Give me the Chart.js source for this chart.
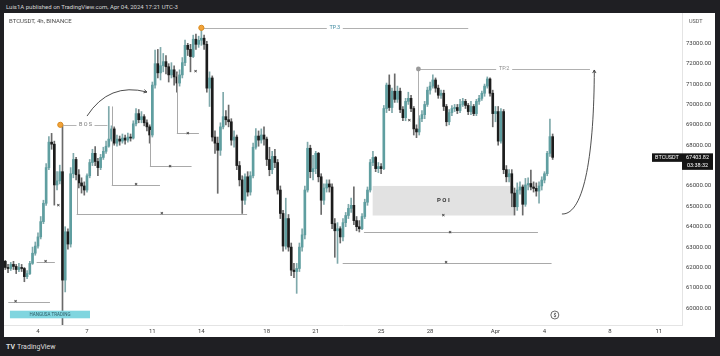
<!DOCTYPE html>
<html>
<head>
<meta charset="utf-8">
<script src="https://cdn.jsdelivr.net/npm/chart.js@4.4.1/dist/chart.umd.min.js"></script>
<style>
  html, body { margin: 0; padding: 0; }
  body { width: 720px; height: 356px; background: #1f1f23; position: relative; overflow: hidden;
         font-family: Roboto, "Liberation Sans", sans-serif; }
  #head { position: absolute; left: 6px; top: 3px; font-size: 6px; color: #d4d4d4; white-space: nowrap; }
  #panel { position: absolute; left: 4px; top: 13px; width: 711px; height: 324px; background: #fff; }
  #sym { position: absolute; left: 9px; top: 17px; font-size: 6px; color: #4a4a4a; z-index: 2; }
  #foot { position: absolute; left: 6px; top: 343px; font-size: 7px; color: #dedede; }
  #foot b { font-size: 7px; margin-right: 2px; }
</style>
</head>
<body>
<div id="head">Luis1A published on TradingView.com, Apr 04, 2024 17:21 UTC-3</div>
<div id="panel"><canvas id="chart" width="711" height="324"></canvas></div>
<div id="sym">BTCUSDT, 4h, BINANCE</div>
<div id="foot"><b>TV</b>TradingView</div>
<script>
// BTCUSDT 4h candles, index 0 = Mar 2 00:00, 6 candles per day
const firstOpen = 62300;
const closes = [
  62000, 61950, 62150, 62050, 61900, 62000,   // Mar 2
  61950, 61550, 61700, 62200, 62700, 63050,   // Mar 3
  63500, 64250, 65150, 66900, 68150, 68050,   // Mar 4
  66050, 66250, 66700, 61380, 63750, 63150,   // Mar 5
  66600, 67300, 66550, 66150, 66000, 65800,   // Mar 6
  66500, 67150, 67600, 67200, 66900, 67400,   // Mar 7
  67700, 67950, 68300, 68800, 68100, 68300,   // Mar 8
  68200, 68350, 68250, 68400, 68350, 69050,   // Mar 9
  69550, 69250, 69400, 69100, 68900, 68500,   // Mar 10
  70950, 72000, 71550, 71900, 72100, 71850,   // Mar 11
  71450, 71700, 71350, 71050, 71450, 72050,   // Mar 12
  72900, 72700, 72350, 73200, 72950, 73150,   // Mar 13
  73250, 72950, 70800, 71300, 68400, 68100,   // Mar 14
  67750, 68900, 69400, 69250, 69150, 68250,   // Mar 15
  68400, 67000, 66300, 65300, 66450, 65700,   // Mar 16
  66500, 67900, 68450, 68250, 68500, 68300,   // Mar 17
  67300, 66800, 67450, 67150, 65800, 64650,   // Mar 18
  63050, 64400, 63000, 61870, 61800, 61950,   // Mar 19
  63000, 63600, 65800, 67850, 66700, 66850,   // Mar 20
  67600, 66450, 65300, 65900, 66100, 65950,   // Mar 21
  64150, 63800, 63900, 63500, 64200, 64550,   // Mar 22
  64900, 65050, 64300, 64000, 63900, 64500,   // Mar 23
  65200, 65800, 67150, 67400, 66850, 66950,   // Mar 24
  66850, 69800, 70950, 69850, 70650, 70250,   // Mar 25
  70650, 69750, 69350, 70150, 70300, 69800,   // Mar 26
  68800, 68650, 69300, 69500, 70000, 70700,   // Mar 27
  70900, 71200, 70800, 70450, 70550, 69900,   // Mar 28
  69150, 69600, 69800, 69850, 69700, 70000,   // Mar 29
  70150, 69950, 69650, 69900, 69550, 70150,   // Mar 30
  70300, 70550, 70900, 71250, 70550, 69550,   // Mar 31
  69650, 68200, 69650, 66800, 66450, 66600,   // Apr 1
  65650, 64980, 65800, 65950, 65100, 66050,   // Apr 2
  66120, 65950, 65880, 65750, 66000, 66290,   // Apr 3
  66600, 67600, 68420, 67403.82               // Apr 4
];
const highs = [
  62350, 62150, 62250, 62300, 62150, 62200,
  62150, 62000, 61850, 62300, 63000, 63250,
  63700, 64500, 65300, 67100, 68420, 68580,
  68200, 66700, 67020, 69000, 64000, 63900,
  66900, 67600, 67400, 66800, 66400, 66200,
  66600, 67300, 67800, 67930, 67350, 67550,
  67900, 68200, 69900, 68950, 68900, 68500,
  68450, 68550, 68500, 68600, 68550, 69200,
  69800, 69750, 69650, 69500, 69250, 69000,
  71100, 72670, 72700, 72800, 72500, 72400,
  72000, 72050, 71900, 71600, 71700, 72300,
  73160, 73000, 72950, 73400, 73450, 73350,
  73777, 73400, 73100, 71600, 71400, 68700,
  68400, 69100, 70600, 69700, 69970, 69300,
  68700, 68500, 67200, 66500, 66600, 66700,
  66700, 68100, 68820, 68700, 68800, 68900,
  68400, 67900, 67700, 67800, 67300, 66000,
  64800, 65400, 64600, 63200, 62200, 62200,
  63200, 63900, 66000, 68150, 68000, 67500,
  67700, 67650, 66600, 66100, 66300, 66300,
  66100, 64400, 64200, 64000, 64400, 64700,
  65100, 65400, 65960, 64500, 64300, 64650,
  65350, 65950, 67300, 67700, 67450, 67150,
  67100, 69950, 71050, 71450, 70800, 71500,
  70900, 70800, 69900, 70300, 70600, 70450,
  69900, 69000, 69450, 69700, 70150, 70850,
  71100, 71450, 71300, 70950, 70700, 70700,
  70000, 69750, 69950, 70000, 70000, 70250,
  70300, 70250, 70050, 70150, 70000, 70250,
  70450, 70650, 71000, 71350, 71300, 70700,
  69900, 69900, 69800, 69750, 67000, 66800,
  66800, 65900, 66150, 66200, 66050, 66370,
  66400, 66780, 66200, 66150, 66200, 66450,
  66700, 67700, 69280, 68550
];
const lows = [
  61900, 61750, 61850, 61900, 61700, 61800,
  61800, 61300, 61450, 61650, 62150, 62600,
  62950, 63400, 64150, 65050, 66800, 67800,
  65060, 65800, 66100, 59000, 60800, 62900,
  63000, 66400, 66300, 65900, 65650, 65550,
  65700, 66400, 67000, 67000, 66500, 66800,
  67300, 67600, 67900, 68200, 68000, 67950,
  68000, 68100, 68050, 68150, 68200, 68300,
  68950, 69100, 69100, 68950, 68700, 68100,
  68400, 70800, 71300, 71200, 71600, 71500,
  71100, 71300, 70950, 70600, 70900, 71300,
  71900, 72400, 71600, 72300, 72700, 72800,
  72900, 72700, 70600, 69900, 68200, 67600,
  65640, 67500, 68800, 69000, 68900, 68000,
  67900, 66800, 66000, 64650, 65100, 65500,
  65550, 66400, 67800, 67950, 68100, 68000,
  67000, 66500, 66600, 66900, 65600, 64400,
  62800, 62900, 62800, 61600, 61500, 60730,
  61800, 62800, 63400, 65700, 66400, 66300,
  66600, 66200, 64600, 65100, 65700, 65700,
  63900, 62500, 62200, 63200, 63300, 64000,
  64400, 64700, 64100, 63800, 63740, 63850,
  64400, 65050, 65700, 67000, 66700, 66650,
  66600, 66800, 69600, 69700, 69600, 70100,
  70100, 69600, 69200, 69200, 70000, 69650,
  68500, 68370, 68500, 69150, 69300, 69900,
  70500, 70800, 70600, 70300, 70300, 69700,
  68950, 69000, 69450, 69650, 69550, 69600,
  69900, 69800, 69500, 69500, 69450, 69450,
  70000, 70200, 70400, 70800, 70400, 68900,
  69150, 68000, 68100, 66600, 66200, 66200,
  64980, 64570, 64800, 65600, 64570, 65000,
  65800, 65800, 65700, 65500, 65150, 65800,
  66150, 66500, 67450, 67300
];

// axis ticks
const xTickIdx = [12, 30, 54, 72, 96, 114, 138, 156, 180, 198, 222, 240];
const xTickLabels = ['4', '7', '11', '14', '18', '21', '25', '28', 'Apr', '4', '8', '11'];
const yTickValues = [60000, 61000, 62000, 63000, 64000, 65000, 66000, 67000,
                     68000, 69000, 70000, 71000, 72000, 73000];

// drawings, anchored at (candle index, price)
const bosLine = [20.2, 37.5, 69000];
const bosArrow = [[30, 69430], [38.1, 71100], [52, 70610]];
const tp3Line = [72, 170, 73760];
const tp2Line = [151.7, 214.7, 71740, 68800];
const tpArrow = [[204.4, 64624], [212.9, 64575], [216.2, 67765], [216.3, 71690]];
const poiBox = [134.9, 186.8, 64550, 66000];
// from, to, price, marker index, top of vertical leg
const liquidity = [
  [1.1, 16.4, 60320, 3.8, null],
  [11.5, 18.2, 62283, 14.8, null],
  [26.2, 88.8, 64624, 57.5, 66900],
  [39.1, 56.8, 66047, 48, 69900],
  [53.1, 68.4, 66979, 60.5, 68745],
  [63, 71.1, 68584, 67, 71543],
  [123.9, 200.6, 62234, 161.9, null],
  [131.7, 195.6, 63740, 163.3, null]
];
const loneMarks = [[19.5, 65065], [69.9, 71600], [148.4, 69236]];
const brandBox = [1.7, 31.1, 59506, 59879];
const lastPrice = 67403.82;

const UP = '#5f9ea0', DOWN = '#1c1c1c', UP_WICK = '#7fa9ab', DOWN_WICK = '#6a6a6a';

const opens = closes.map((c, i) => i === 0 ? firstOpen : closes[i - 1]);
const isUp = closes.map((c, i) => c >= opens[i]);
const bodies = closes.map((c, i) => ({ x: i, y: [opens[i], c] }));
const wicks = closes.map((c, i) => ({ x: i, y: [lows[i], highs[i]] }));

const FONT = 'Roboto, "Liberation Sans", sans-serif';

function arrowHead(ctx, x, y, ang, len) {
  ctx.beginPath();
  ctx.moveTo(x - len * Math.cos(ang - 0.5), y - len * Math.sin(ang - 0.5));
  ctx.lineTo(x, y);
  ctx.lineTo(x - len * Math.cos(ang + 0.5), y - len * Math.sin(ang + 0.5));
  ctx.stroke();
}
function xMark(ctx, x, y) {
  ctx.fillStyle = '#3a3a3a';
  ctx.font = 'bold 6px ' + FONT;
  ctx.textAlign = 'center';
  ctx.textBaseline = 'middle';
  ctx.fillText('×', x, y);
}
function hLine(ctx, x1, x2, y, color) {
  ctx.strokeStyle = color;
  ctx.lineWidth = 1;
  ctx.beginPath();
  ctx.moveTo(x1, Math.round(y) + 0.5);
  ctx.lineTo(x2, Math.round(y) + 0.5);
  ctx.stroke();
}

const drawings = {
  id: 'drawings',
  beforeDatasetsDraw(chart) {
    const { ctx, scales: { x, y } } = chart;
    ctx.save();
    ctx.fillStyle = '#e2e2e2';
    const bx1 = x.getPixelForValue(poiBox[0]), bx2 = x.getPixelForValue(poiBox[1]);
    const by1 = y.getPixelForValue(poiBox[3]), by2 = y.getPixelForValue(poiBox[2]);
    ctx.fillRect(bx1, by1, bx2 - bx1, by2 - by1);
    ctx.fillStyle = '#333';
    ctx.font = 'bold 6px ' + FONT;
    ctx.textAlign = 'center';
    ctx.textBaseline = 'middle';
    ctx.fillText('P O I', (bx1 + bx2) / 2, (by1 + by2) / 2);
    ctx.restore();
  },
  afterDatasetsDraw(chart) {
    const { ctx, chartArea: a, scales: { x, y } } = chart;
    const X = v => x.getPixelForValue(v), Y = v => y.getPixelForValue(v);
    ctx.save();
    ctx.beginPath();
    ctx.rect(a.left, a.top, a.right - a.left, a.bottom - a.top);
    ctx.clip();

    // liquidity lines
    liquidity.forEach(([f, t, p, m, top]) => {
      hLine(ctx, X(f), X(t), Y(p), '#a9a9a9');
      if (top !== null) {
        ctx.beginPath();
        ctx.moveTo(Math.round(X(f)) + 0.5, Y(top));
        ctx.lineTo(Math.round(X(f)) + 0.5, Y(p));
        ctx.stroke();
      }
      xMark(ctx, X(m), Y(p));
    });
    loneMarks.forEach(([i, p]) => xMark(ctx, X(i), Y(p)));
    xMark(ctx, (X(poiBox[0]) + X(poiBox[1])) / 2, Y(poiBox[2]));

    // BOS
    const bx = X(bosLine[0]), by = Y(bosLine[2]), btx = X((bosLine[0] + bosLine[1]) / 2 + 0.6);
    hLine(ctx, bx, btx - 9, by, '#b5b5b5');
    hLine(ctx, btx + 9, X(bosLine[1]), by, '#b5b5b5');
    ctx.fillStyle = '#777';
    ctx.font = '5.5px ' + FONT;
    ctx.textAlign = 'center';
    ctx.textBaseline = 'middle';
    ctx.fillText('B O S', btx, by);
    ctx.fillStyle = '#f2a33a';
    ctx.strokeStyle = '#d98a1e';
    ctx.beginPath(); ctx.arc(bx, by, 2.6, 0, Math.PI * 2); ctx.fill(); ctx.stroke();

    // BOS arrow
    ctx.strokeStyle = '#3a3a3a';
    ctx.lineWidth = 0.9;
    const [p0, c0, p1] = bosArrow.map(([i, p]) => [X(i), Y(p)]);
    ctx.beginPath();
    ctx.moveTo(p0[0], p0[1]);
    ctx.quadraticCurveTo(c0[0], c0[1], p1[0], p1[1]);
    ctx.stroke();
    arrowHead(ctx, p1[0], p1[1], Math.atan2(p1[1] - c0[1], p1[0] - c0[0]), 3.5);

    // TP.3
    const t3x = X(tp3Line[0]), t3y = Y(tp3Line[2]), t3m = X((tp3Line[0] + tp3Line[1]) / 2);
    hLine(ctx, t3x, t3m - 8, t3y, '#b0b0b0');
    hLine(ctx, t3m + 8, X(tp3Line[1]), t3y, '#b0b0b0');
    ctx.fillStyle = '#3f8aa0';
    ctx.font = '5.5px ' + FONT;
    ctx.textAlign = 'center';
    ctx.textBaseline = 'middle';
    ctx.fillText('TP.3', t3m, t3y);
    ctx.fillStyle = '#f2a33a';
    ctx.strokeStyle = '#d98a1e';
    ctx.beginPath(); ctx.arc(t3x, t3y, 2.6, 0, Math.PI * 2); ctx.fill(); ctx.stroke();

    // TP.2
    const t2x = X(tp2Line[0]), t2y = Y(tp2Line[2]), t2m = X((tp2Line[0] + tp2Line[1]) / 2);
    hLine(ctx, t2x, t2m - 8, t2y, '#b0b0b0');
    hLine(ctx, t2m + 8, X(tp2Line[1]), t2y, '#b0b0b0');
    ctx.beginPath();
    ctx.moveTo(Math.round(t2x) + 0.5, t2y);
    ctx.lineTo(Math.round(t2x) + 0.5, Y(tp2Line[3]));
    ctx.stroke();
    ctx.fillStyle = '#8a8a8a';
    ctx.fillText('TP.2', t2m, t2y);
    ctx.fillStyle = '#9a9a9a';
    ctx.beginPath(); ctx.arc(t2x, t2y, 2.4, 0, Math.PI * 2); ctx.fill();

    // projected move arrow
    const [q0, q1, q2, q3] = tpArrow.map(([i, p]) => [X(i), Y(p)]);
    ctx.strokeStyle = '#3a3a3a';
    ctx.lineWidth = 0.9;
    ctx.beginPath();
    ctx.moveTo(q0[0], q0[1]);
    ctx.bezierCurveTo(q1[0], q1[1], q2[0], q2[1], q3[0], q3[1]);
    ctx.stroke();
    arrowHead(ctx, q3[0], q3[1], Math.atan2(q3[1] - q2[1], q3[0] - q2[0]), 3.5);

    // brand box
    const kx1 = X(brandBox[0]), kx2 = X(brandBox[1]), ky1 = Y(brandBox[3]), ky2 = Y(brandBox[2]);
    ctx.fillStyle = '#80d5df';
    ctx.fillRect(kx1, ky1, kx2 - kx1, ky2 - ky1);
    ctx.fillStyle = '#2f5f68';
    ctx.font = '4.5px ' + FONT;
    ctx.fillText('HANGUSA TRADING', (kx1 + kx2) / 2, (ky1 + ky2) / 2);

    // event icon on the time line
    const ex = X(201.8), ey = a.bottom - 10;
    ctx.strokeStyle = '#6b6b6b';
    ctx.fillStyle = '#fff';
    ctx.lineWidth = 1;
    ctx.beginPath(); ctx.arc(ex, ey, 4, 0, Math.PI * 2); ctx.fill(); ctx.stroke();
    ctx.fillStyle = '#555';
    ctx.font = 'bold 5px ' + FONT;
    ctx.fillText('$', ex, ey + 0.3);
    ctx.restore();
  },
  afterDraw(chart) {
    const { ctx, chartArea: a, scales: { y } } = chart;
    const py = y.getPixelForValue(lastPrice);
    ctx.save();
    ctx.fillStyle = '#141414';
    ctx.fillRect(a.right - 30, py - 4, 30, 8.5);
    ctx.fillRect(a.right, py - 4, 31, 16.5);
    ctx.fillStyle = '#fff';
    ctx.font = '5.5px ' + FONT;
    ctx.textAlign = 'center';
    ctx.textBaseline = 'middle';
    ctx.fillText('BTCUSDT', a.right - 15, py + 0.3);
    ctx.fillText(lastPrice.toFixed(2), a.right + 15.5, py + 0.3);
    ctx.fillText('03:38:32', a.right + 15.5, py + 8);
    ctx.fillStyle = '#555';
    ctx.textAlign = 'left';
    ctx.fillText('USDT', a.right + 7, a.top + 9);
    ctx.restore();
  }
};

new Chart(document.getElementById('chart'), {
  type: 'bar',
  data: {
    datasets: [
      {
        data: bodies,
        backgroundColor: isUp.map(u => u ? UP : DOWN),
        barThickness: 2,
        minBarLength: 1,
        grouped: false,
        order: 0
      },
      {
        data: wicks,
        backgroundColor: isUp.map(u => u ? UP_WICK : DOWN_WICK),
        barThickness: 1,
        grouped: false,
        order: 1
      }
    ]
  },
  options: {
    responsive: false,
    animation: false,
    events: [],
    layout: { padding: 0 },
    plugins: { legend: { display: false }, tooltip: { enabled: false } },
    scales: {
      x: {
        type: 'linear',
        min: -0.48,
        max: 248.5,
        offset: false,
        grid: { display: false, drawTicks: false },
        border: { display: true, color: '#e4e4e4' },
        ticks: {
          autoSkip: false,
          maxRotation: 0,
          padding: 3,
          color: '#3c3c3c',
          font: { size: 6, family: FONT },
          callback: (v, idx) => xTickLabels[idx]
        },
        afterBuildTicks: s => { s.ticks = xTickIdx.map(v => ({ value: v })); },
        afterFit: s => { s.height = 12; s.paddingLeft = 0; s.paddingRight = 0; }
      },
      y: {
        position: 'right',
        min: 59177,
        max: 74487,
        grid: { display: false, drawTicks: false },
        border: { display: true, color: '#e4e4e4' },
        ticks: {
          padding: 4,
          color: '#3c3c3c',
          font: { size: 6, family: FONT },
          callback: v => v.toFixed(2)
        },
        afterBuildTicks: s => { s.ticks = yTickValues.map(v => ({ value: v })); },
        afterFit: s => { s.width = 33; s.paddingTop = 0; s.paddingBottom = 0; }
      }
    }
  },
  plugins: [drawings]
});
</script>
</body>
</html>
